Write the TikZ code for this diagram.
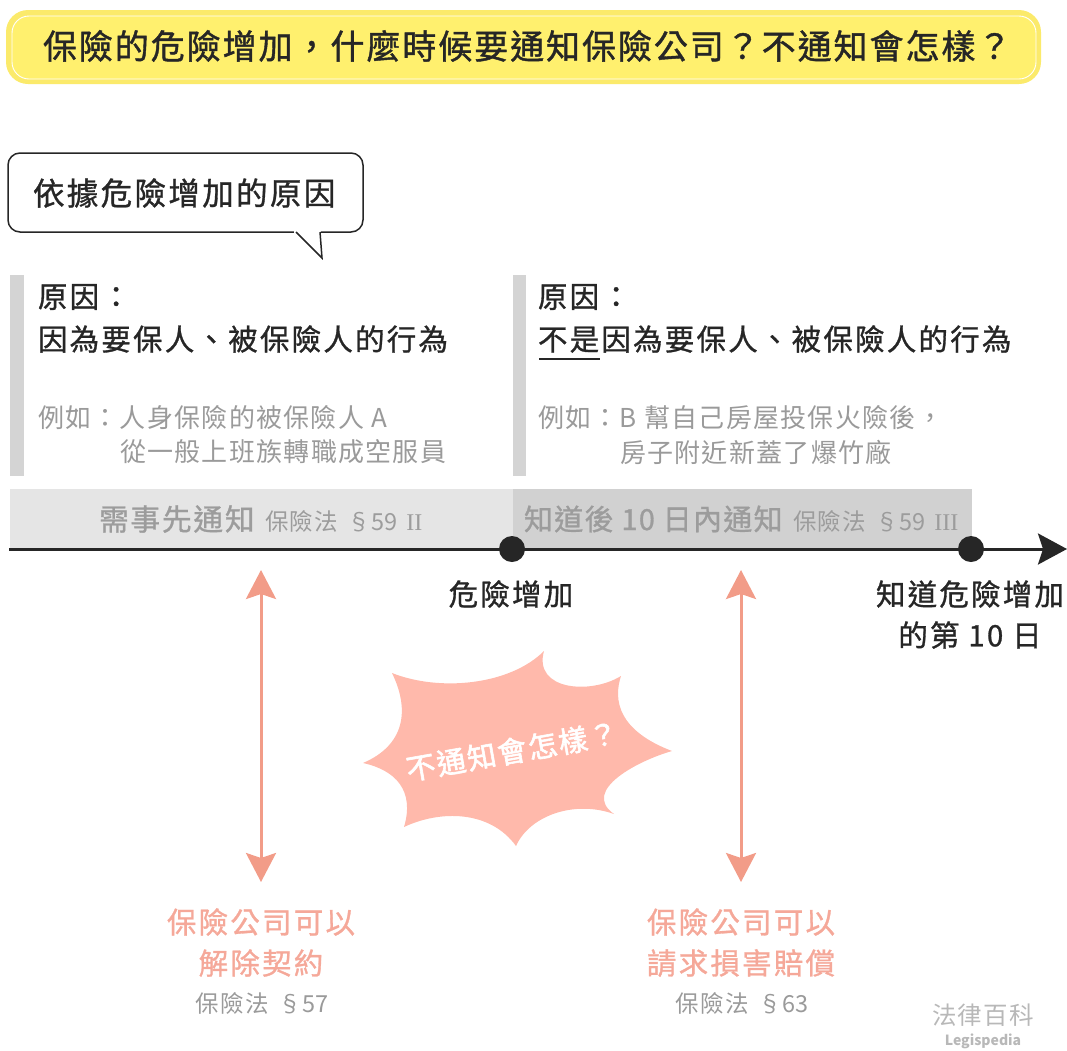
\documentclass[tikz,border=0pt]{standalone}
\usepackage{fontspec}
\usetikzlibrary{arrows.meta}
\setmainfont{Noto Sans CJK TC}
\newfontfamily\fwide[LetterSpace=5.7,FakeBold=1.2]{Noto Sans CJK TC}
\newfontfamily\fmid[LetterSpace=7.5,FakeBold=1]{Noto Sans CJK TC}
\newfontfamily\fbandone[LetterSpace=6,FakeBold=1]{Noto Sans CJK TC}
\newfontfamily\fbandtwo[LetterSpace=4.5,FakeBold=1]{Noto Sans CJK TC}
\newfontfamily\fburst[LetterSpace=6.5,FakeBold=2]{Noto Sans CJK TC}
\newfontfamily\fgray[LetterSpace=5]{Noto Sans CJK TC}
\newfontfamily\fplain{Noto Sans CJK TC}
\newfontfamily\froman{Liberation Serif}
\newcommand{\fsz}[1]{\fontsize{#1}{#1}\selectfont}
\newcommand{\seclaw}[2]{保險法\hspace{10pt}{\fplain §#1}\hspace{9pt}{\froman\fsz{24}#2}}
\definecolor{ink}{HTML}{262626}
\definecolor{yellowout}{HTML}{FBEA6B}
\definecolor{yellowin}{HTML}{FFF06E}
\definecolor{graytext}{HTML}{9A9A9A}
\definecolor{bandtext}{HTML}{9C9C9C}
\definecolor{salmon}{HTML}{F29C88}
\definecolor{salmontext}{HTML}{F5A899}
\definecolor{burst}{HTML}{FFB9AB}
\tikzset{
  x=1pt,y=-1pt,
  txt/.style={inner sep=0pt,outer sep=0pt,text=ink},
  head/.style={txt,anchor=west,font=\fmid\fsz{29.5}},
  eg/.style={txt,anchor=west,text=graytext,font=\fgray\fsz{26}},
  bandone/.style={txt,anchor=west,text=bandtext,font=\fbandone\fsz{29.7}},
  bandtwo/.style={txt,anchor=west,text=bandtext,font=\fbandtwo\fsz{29}},
  law/.style={txt,anchor=west,text=bandtext,font=\fgray\fsz{23.5}},
  timelabel/.style={txt,font=\fmid\fsz{29.5}},
  result/.style={txt,text=salmontext,font=\fmid\fsz{29.5}},
  lawgray/.style={txt,text=graytext,font=\fgray\fsz{23.5}},
  dot/.style={circle,fill=ink,minimum size=26pt,inner sep=0pt,outer sep=0pt},
  twoway/.style={draw=salmon,line width=3pt,{Stealth[length=29pt,width=30pt,inset=5pt,fill=salmon]}-{Stealth[length=29pt,width=30pt,inset=5pt,fill=salmon]}},
}
\begin{document}
\begin{tikzpicture}
\useasboundingbox (0,0) rectangle (1067,1050);
% title
\path[fill=yellowout,rounded corners=22pt] (6,10) rectangle (1041,84);
\path[fill=yellowin,draw=white,line width=0.9pt,rounded corners=17pt] (12,16) rectangle (1036,79);
\node[txt,anchor=west,font=\fwide\fsz{34}] (title) at (43,46) {保險的危險增加，什麼時候要通知保險公司？不通知會怎樣？};
% bubble
\draw[ink,line width=1.5pt,fill=white,rounded corners=12pt] (8,153) -- (363,153) -- (363,232) -- (8,232) -- cycle;
\path[fill=white] (294,230) rectangle (321,234);
\draw[ink,line width=1.5pt,line join=miter] (296,232) -- (322,258) -- (320,232);
\node[txt,anchor=west,font=\fmid\fsz{31.5}] (bubbletext) at (33,193) {依據危險增加的原因};
% side bars
\path[fill=black!17] (10,275) rectangle (24,476);
\path[fill=black!17] (513,275) rectangle (526,476);
% left column
\node[head] (c1a) at (38,297) {原因：};
\node[head] (c1b) at (38,339) {因為要保人、被保險人的行為};
\node[eg] (c1c) at (38,418) {例如：人身保險的被保險人 A};
\node[eg] (c1d) at (120,452) {從一般上班族轉職成空服員};
% right column
\node[head] (c2a) at (538,297) {原因：};
\node[head] (c2b) at (538,339) {不是因為要保人、被保險人的行為};
\coordinate (ulA) at (539,359);
\coordinate (ulB) at (600,359);
\draw[ink,line width=1.5pt] (ulA) -- (ulB);
\node[eg] (c2c) at (538,418) {例如：B 幫自己房屋投保火險後，};
\node[eg] (c2d) at (620,452) {房子附近新蓋了爆竹廠};
% bands
\path[fill=black!10] (10,489) rectangle (513,549);
\path[fill=black!18] (513,489) rectangle (972,549);
\node[bandone] (b1) at (99,519) {需事先通知};
\node[law] (l1) at (265,521) {\seclaw{59}{II}};
\node[bandtwo] (b2) at (524,519) {知道後 10 日內通知};
\node[law] (l2) at (793,521) {\seclaw{59}{III}};
% timeline
\coordinate (tstart) at (9,549);
\coordinate (tend) at (1067,549);
\draw[ink,line width=3pt,-{Stealth[length=29pt,width=31pt,inset=5pt,fill=ink]}] (tstart) -- (tend);
\node[dot] (d1) at (512,549) {};
\node[dot] (d2) at (971,549) {};
\node[timelabel] (t1) at (511,594) {危險增加};
\node[timelabel] (t2) at (970,594) {知道危險增加};
\node[timelabel] (t3) at (970,635) {的第 10 日};
% arrows
\coordinate (a1t) at (261,570);
\coordinate (a1b) at (261,882);
\coordinate (a2t) at (741,570);
\coordinate (a2b) at (741,882);
\draw[twoway] (a1t) -- (a1b);
\draw[twoway] (a2t) -- (a2b);
% burst
\path[fill=burst] (392,673)
  .. controls (440,692) and (510,685) .. (544,651)
  .. controls (533,690) and (590,695) .. (621,676)
  .. controls (610,710) and (630,735) .. (672,751)
  .. controls (640,760) and (580,790) .. (614,814)
  .. controls (575,800) and (530,815) .. (516,846)
  .. controls (490,810) and (440,810) .. (404,827)
  .. controls (415,790) and (395,770) .. (363,763)
  .. controls (405,745) and (410,710) .. (392,673) -- cycle;
\node[txt,text=white,rotate=10,font=\fburst\fsz{29}] (bursttext) at (512,751) {不通知會怎樣？};
% results
\node[result] (r1a) at (261,922) {保險公司可以};
\node[result] (r1b) at (261,963) {解除契約};
\node[lawgray] (r1c) at (262,1003) {保險法\hspace{10pt}{\fplain §57}};
\node[result] (r2a) at (741,922) {保險公司可以};
\node[result] (r2b) at (741,963) {請求損害賠償};
\node[lawgray] (r2c) at (742,1003) {保險法\hspace{10pt}{\fplain §63}};
% watermark
\node[txt,text=black!28,font=\fgray\fsz{24.5}] (wm1) at (983,1015) {法律百科};
\node[txt,text=black!28,font=\bfseries\fsz{14}] (wm2) at (983,1041) {Legispedia};
\end{tikzpicture}
\end{document}
